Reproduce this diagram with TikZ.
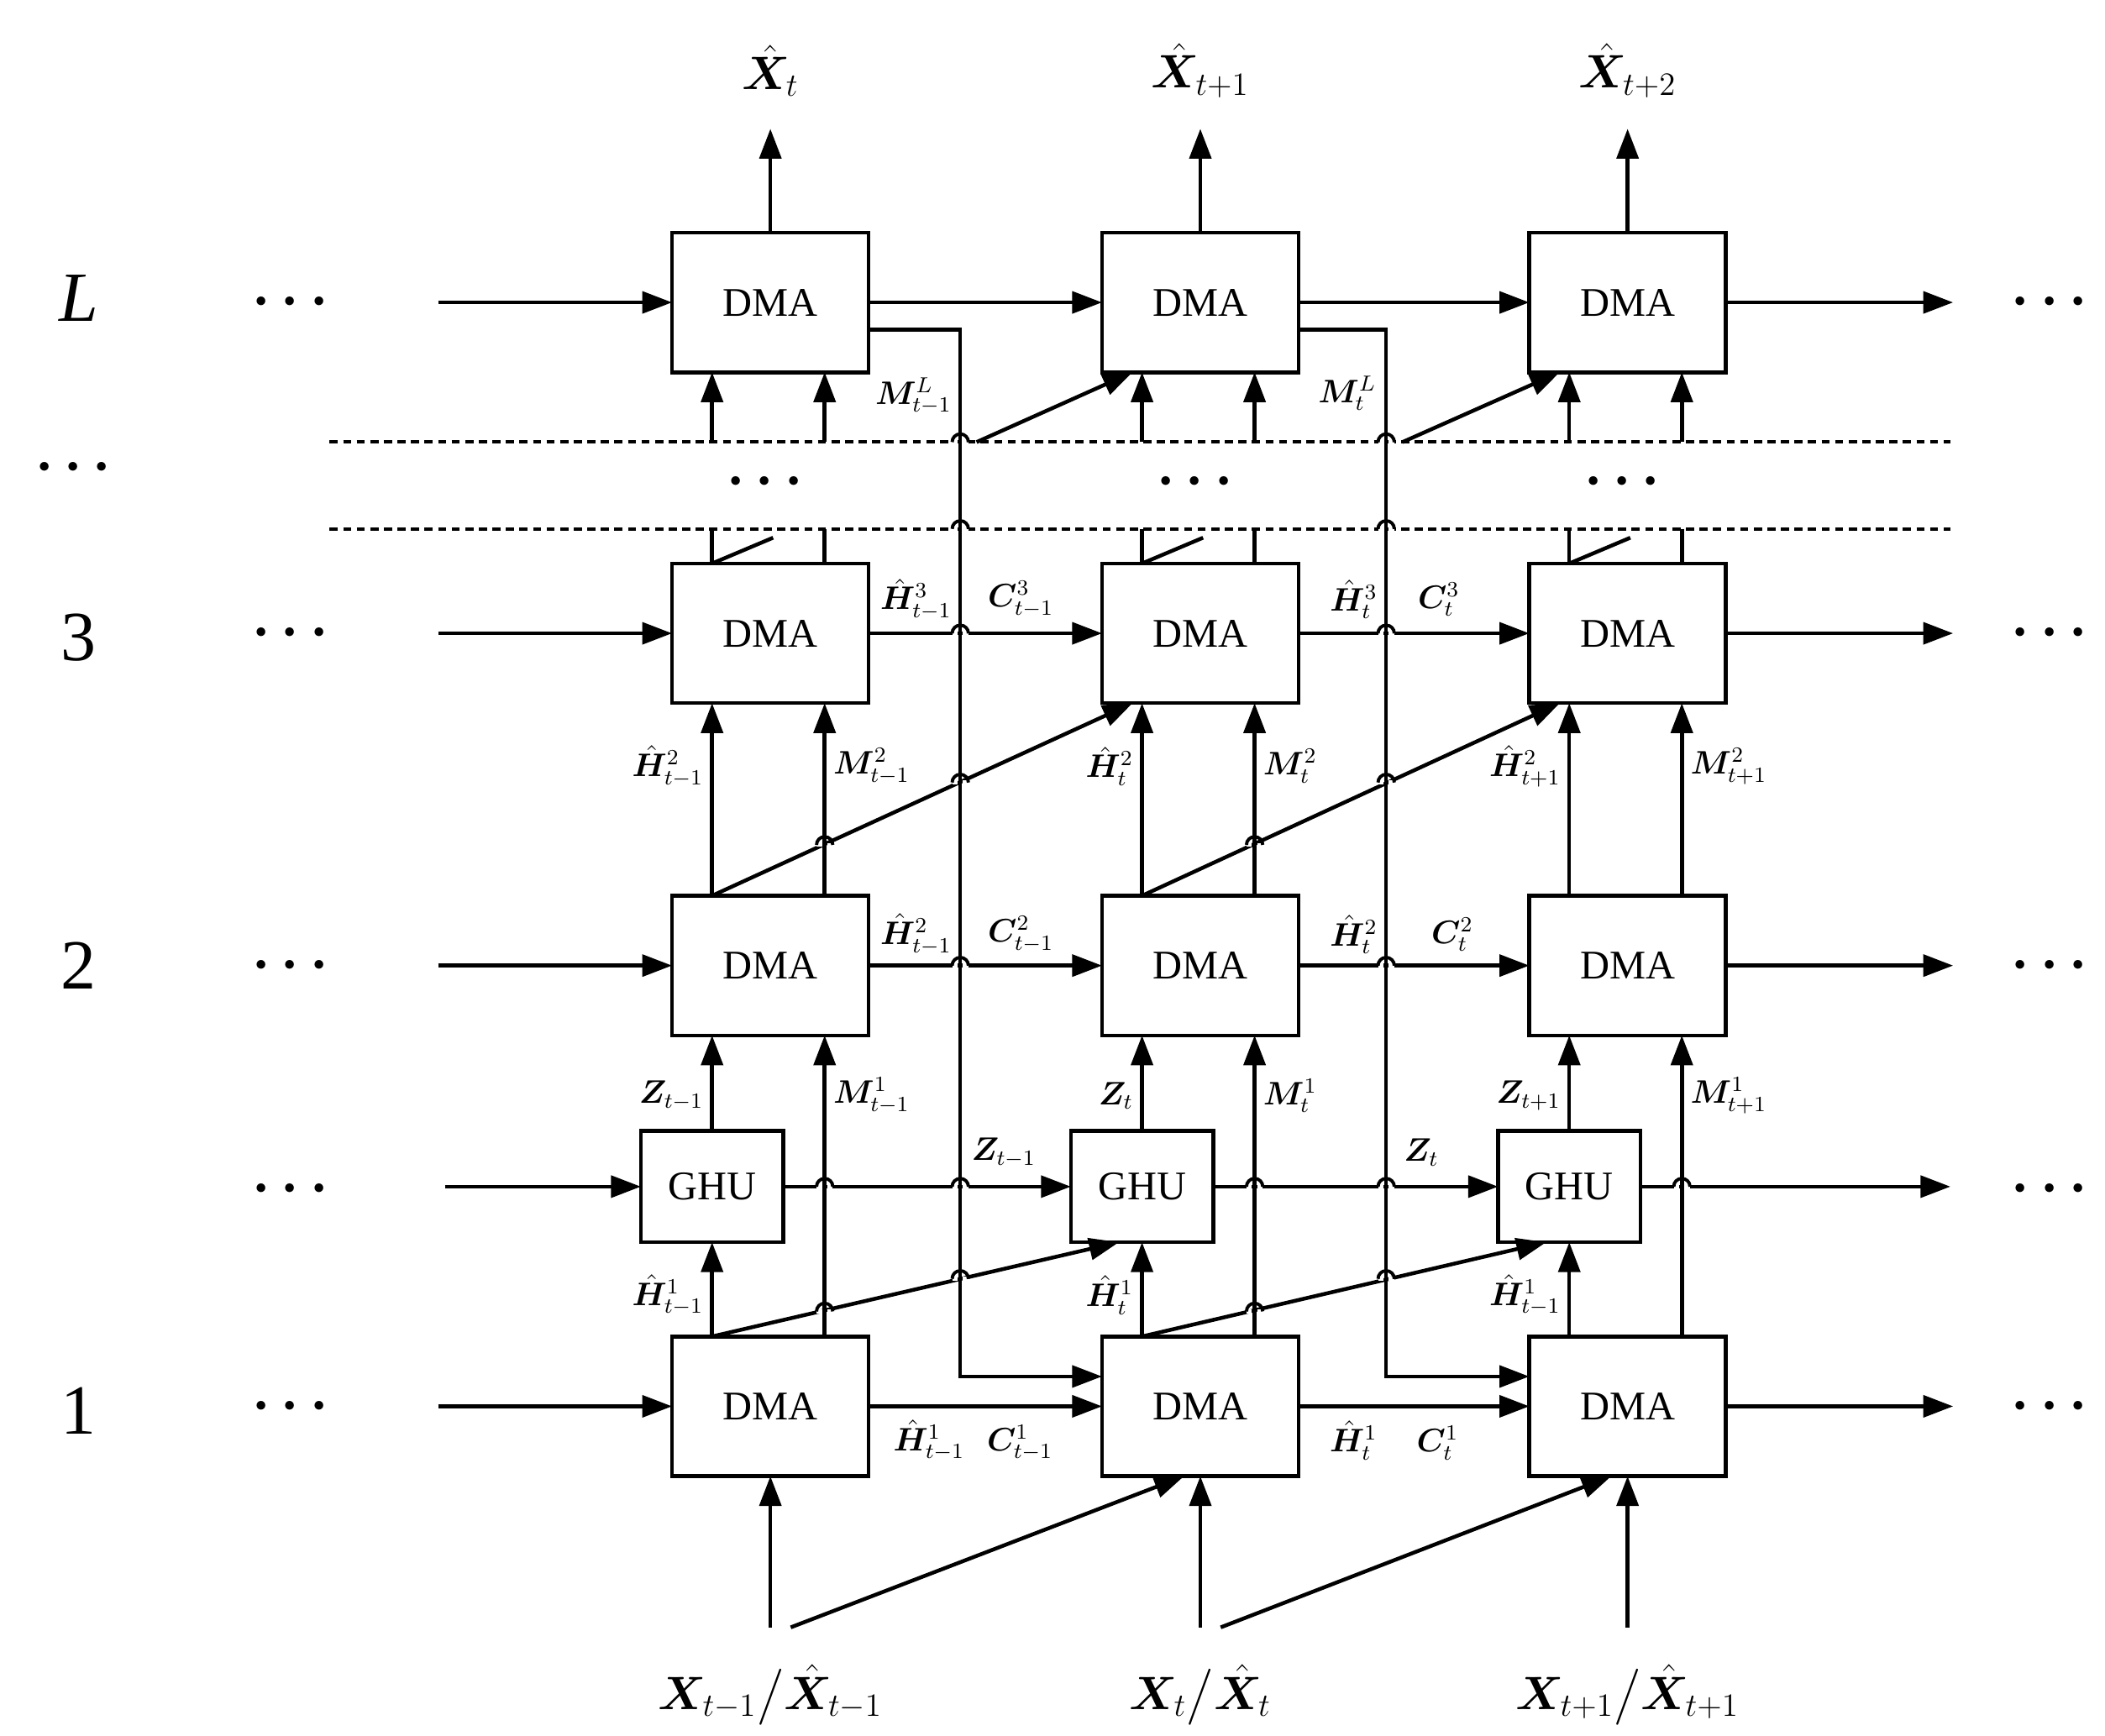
\documentclass[tikz,border=0pt]{standalone}
\usepackage{fontspec}
\setmainfont{Liberation Serif}
\usepackage{amsmath,bm}
\usetikzlibrary{arrows.meta,calc}
\begin{document}
\begin{tikzpicture}[x=0.5pt,y=-0.5pt,
 box/.style={draw,line width=1.4pt,minimum width=72.5pt,minimum height=51.5pt,inner sep=0,outer sep=0,font=\fontsize{15}{15}\selectfont},
 ghu/.style={box,minimum width=52.5pt,minimum height=41pt},
 arr/.style={line width=1.4pt,-{Triangle[length=11pt,width=8pt]}},
 ln/.style={line width=1.4pt},
 lab/.style={font=\fontsize{12}{12}\selectfont,inner sep=0},
 le/.style={lab,anchor=east},
 lw/.style={lab,anchor=west},
 big/.style={font=\fontsize{18}{18}\selectfont,inner sep=0},
 dots/.style={font=\fontsize{22}{22}\selectfont,inner sep=0}]
\useasboundingbox (0,0) rectangle (1552,1280);
\fill[white] (0,0) rectangle (1552,1280);
% columns
\foreach \i/\c in {1/568,2/885,3/1200}{
 \coordinate (c\i) at (\c,0);
 \coordinate (a\i) at (\c-43,0);
 \coordinate (b\i) at (\c+40,0);
 \node[box] (DL\i) at (\c,223) {DMA};
 \node[box] (D3\i) at (\c,467) {DMA};
 \node[box] (D2\i) at (\c,712) {DMA};
 \node[box] (D1\i) at (\c,1037) {DMA};
 \node[ghu] (G\i) at (\c-43,875) {GHU};
}
\coordinate (m1) at (708,0);
\coordinate (m2) at (1022,0);
% dashed lines
\draw[line width=1.2pt,dash pattern=on 3pt off 2pt] (243,326) -- (1438,326);
\draw[line width=1.2pt,dash pattern=on 3pt off 2pt] (243,390) -- (1438,390);
% rows
\foreach \r/\y in {L/223,3/467,2/712,1/1037}{
 \coordinate (in\r) at (323,\y);
 \coordinate (out\r) at (1440,\y);
 \draw[arr] (in\r) -- (D\r1);
 \draw[arr] (D\r1) -- (D\r2);
 \draw[arr] (D\r2) -- (D\r3);
 \draw[arr] (D\r3) -- (out\r);
}
\coordinate (inG) at (328,875);
\coordinate (outG) at (1438,875);
\draw[arr] (inG) -- (G1);
\draw[arr] (G1) -- (G2);
\draw[arr] (G2) -- (G3);
\draw[arr] (G3) -- (outG);
% per column verticals
\foreach \i in {1,2,3}{
 \coordinate (o\i) at ($(c\i)+(0,95)$);
 \draw[arr] (DL\i.north) -- (o\i);
 \draw[arr] (a\i |- 0,326) -- (DL\i.south -| a\i);
 \draw[arr] (b\i |- 0,326) -- (DL\i.south -| b\i);
 \draw[ln] (a\i |- 0,390) -- (D3\i.north -| a\i);
 \draw[ln] (b\i |- 0,390) -- (D3\i.north -| b\i);
 \draw[ln] (D3\i.north -| a\i) -- +(45,-19);
 \draw[arr] (D2\i.north -| a\i) -- (D3\i.south -| a\i);
 \draw[arr] (D2\i.north -| b\i) -- (D3\i.south -| b\i);
 \draw[arr] (G\i.north) -- (D2\i.south -| a\i);
 \draw[arr] (D1\i.north -| b\i) -- (D2\i.south -| b\i);
 \draw[arr] (D1\i.north -| a\i) -- (G\i.south);
 \coordinate (x\i) at ($(c\i)+(0,1200)$);
 \draw[arr] (x\i) -- (D1\i.south);
}
% diagonals
\foreach \i/\j in {1/2,2/3}{
 \coordinate (xd\i) at ($(c\i)+(15,1200)$);
 \draw[arr] (xd\i) -- ($(D1\j.south)+(-12,0)$);
 \draw[arr] (D2\i.north -| a\i) -- ($(D3\j.south)+(-50,0)$);
 \draw[arr] (D1\i.north -| a\i) -- ($(G\j.south)+(-17,0)$);
 \coordinate (dd\i) at ($(m\i)+(12,326)$);
 \draw[arr] (dd\i) -- ($(DL\j.south)+(-50,0)$);
 % M lines
 \draw[arr] ($(DL\i.east)+(0,20)$) -- (m\i |- 0,243) -- (m\i |- 0,1015) -- (D1\j.west |- 0,1015);
}
% hops
\foreach \x/\y in {708/467,1022/467,708/712,1022/712,
 608/875,708/875,925/875,1022/875,1240/875,
 608/623,708/577,925/623,1022/577,
 608/967,708/943,925/967,1022/943,708/326,1022/326,708/390,1022/390}{
 \fill[white] (\x-6,\y-1.5) rectangle (\x-2,\y+1.5);
 \fill[white] (\x+2,\y-1.5) rectangle (\x+6,\y+1.5);
 \draw[line width=1.2pt] (\x-6,\y) arc (180:360:6);
}
% layer labels
\node[font=\fontsize{26}{26}\selectfont,inner sep=0] (lL) at (58,220) {\textit{L}};
\node[dots] (l4) at (58,345) {$\bm\cdots$};
\node[font=\fontsize{26}{26}\selectfont,inner sep=0] (l3) at (58,470) {3};
\node[font=\fontsize{26}{26}\selectfont,inner sep=0] (l2) at (58,712) {2};
\node[font=\fontsize{26}{26}\selectfont,inner sep=0] (l1) at (58,1040) {1};
\foreach \y [count=\k] in {223,467,712,877,1037}{
 \node[dots] (ld\k) at (218,\y) {$\bm\cdots$};
 \node[dots] (rd\k) at (1515,\y) {$\bm\cdots$};
}
\foreach \x [count=\k] in {568,885,1200}{
 \node[dots] (md\k) at (\x,355) {$\bm\cdots$};
}
% outputs / inputs
\node[big] (X1) at (568,52) {$\hat{\bm X}_t$};
\node[big] (X2) at (885,52) {$\hat{\bm X}_{t+1}$};
\node[big] (X3) at (1200,52) {$\hat{\bm X}_{t+2}$};
\node[big] (I1) at (568,1250) {$\bm X_{t-1}\big/\hat{\bm X}_{t-1}$};
\node[big] (I2) at (885,1250) {$\bm X_{t}\big/\hat{\bm X}_{t}$};
\node[big] (I3) at (1200,1250) {$\bm X_{t+1}\big/\hat{\bm X}_{t+1}$};
% small labels
\node[le] at (702,292) {$\bm M^L_{t-1}$};
\node[le] at (1015,290) {$\bm M^L_{t}$};
\node[le] at (702,442) {$\hat{\bm H}^3_{t-1}$};
\node[lw] at (728,442) {$\bm C^3_{t-1}$};
\node[le] at (1016,442) {$\hat{\bm H}^3_{t}$};
\node[lw] at (1045,442) {$\bm C^3_{t}$};
\node[le] at (519,565) {$\hat{\bm H}^2_{t-1}$};
\node[lw] at (614,565) {$\bm M^2_{t-1}$};
\node[le] at (836,565) {$\hat{\bm H}^2_{t}$};
\node[lw] at (931,565) {$\bm M^2_{t}$};
\node[le] at (1151,565) {$\hat{\bm H}^2_{t+1}$};
\node[lw] at (1246,565) {$\bm M^2_{t+1}$};
\node[le] at (702,689) {$\hat{\bm H}^2_{t-1}$};
\node[lw] at (728,689) {$\bm C^2_{t-1}$};
\node[le] at (1016,689) {$\hat{\bm H}^2_{t}$};
\node[lw] at (1055,689) {$\bm C^2_{t}$};
\node[le] at (519,808) {$\bm Z_{t-1}$};
\node[lw] at (614,808) {$\bm M^1_{t-1}$};
\node[le] at (836,808) {$\bm Z_{t}$};
\node[lw] at (931,808) {$\bm M^1_{t}$};
\node[le] at (1151,808) {$\bm Z_{t+1}$};
\node[lw] at (1246,808) {$\bm M^1_{t+1}$};
\node[lab] at (740,850) {$\bm Z_{t-1}$};
\node[lab] at (1048,850) {$\bm Z_{t}$};
\node[le] at (519,955) {$\hat{\bm H}^1_{t-1}$};
\node[le] at (836,955) {$\hat{\bm H}^1_{t}$};
\node[le] at (1151,955) {$\hat{\bm H}^1_{t-1}$};
\node[lab] at (685,1062) {$\hat{\bm H}^1_{t-1}$};
\node[lab] at (752,1064) {$\bm C^1_{t-1}$};
\node[lab] at (998,1062) {$\hat{\bm H}^1_{t}$};
\node[lab] at (1060,1064) {$\bm C^1_{t}$};
\end{tikzpicture}
\end{document}
